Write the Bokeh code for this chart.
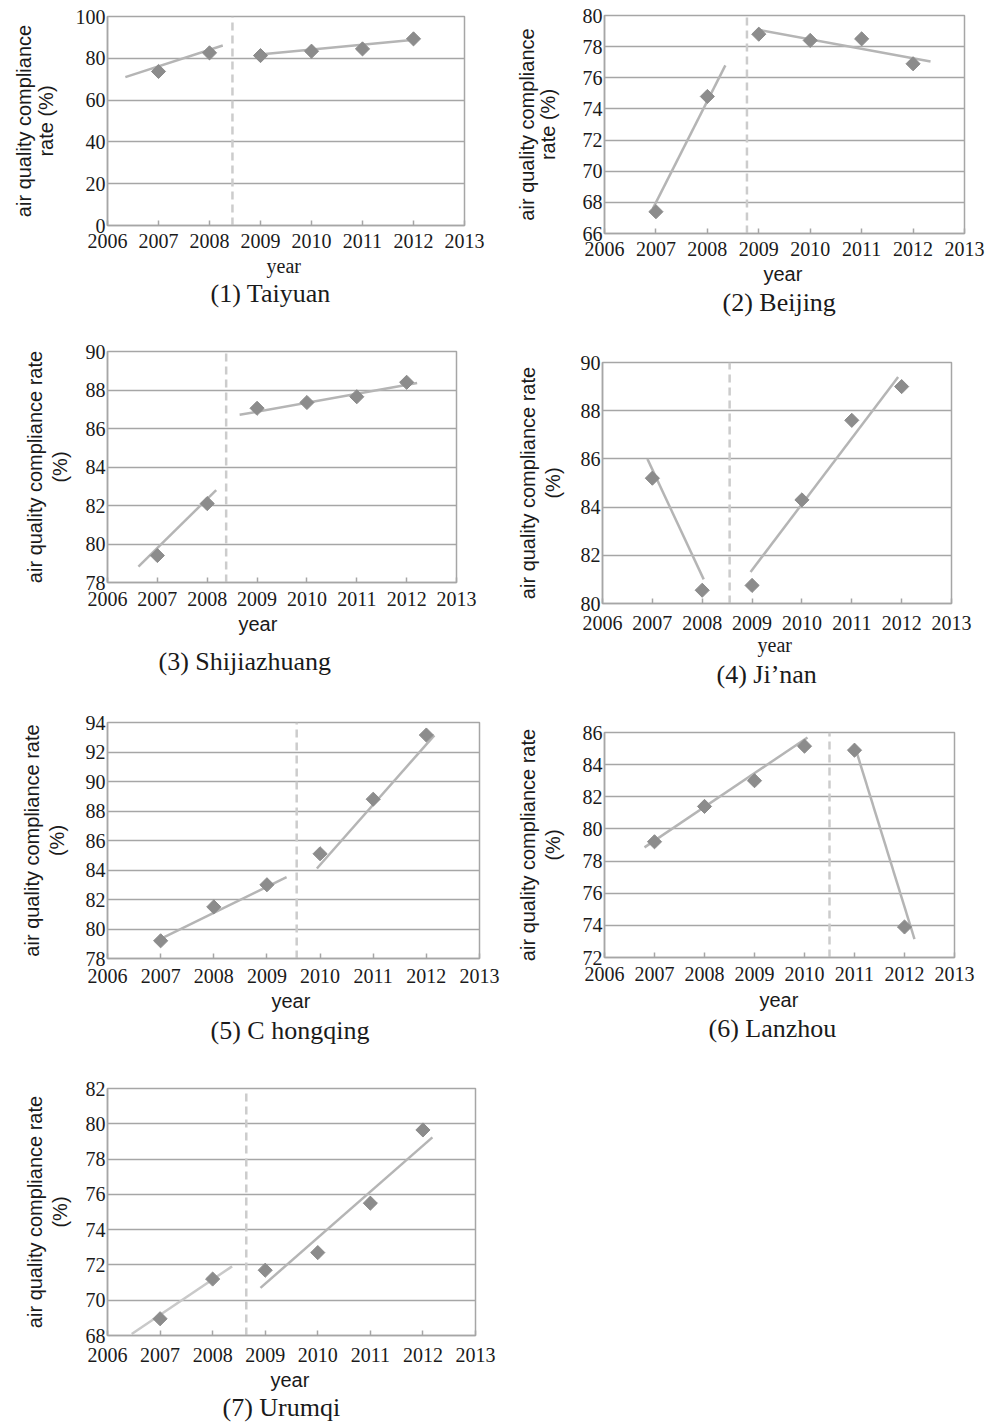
from bokeh.plotting import figure
from bokeh.layouts import column, row
from bokeh.models import FixedTicker, Title, Range1d
from bokeh.embed import file_html
from bokeh.resources import INLINE
import math

# ---------------- data ----------------
years = [2007, 2008, 2009, 2010, 2011, 2012]
x_ticks = [2006, 2007, 2008, 2009, 2010, 2011, 2012, 2013]

taiyuan = [73.7, 82.6, 81.3, 83.4, 84.5, 89.3]
beijing = [67.4, 74.8, 78.8, 78.4, 78.5, 76.9]
shijiazhuang = [79.4, 82.1, 87.05, 87.35, 87.65, 88.4]
jinan = [85.2, 80.55, 80.75, 84.3, 87.6, 89.0]
chongqing = [79.2, 81.5, 83.0, 85.1, 88.8, 93.15]
lanzhou = [79.2, 81.4, 83.0, 85.15, 84.9, 73.9]
urumqi = [68.95, 71.2, 71.7, 72.7, 75.5, 79.65]

# trend line end points: [segment1, segment2]
taiyuan_trend_x = [[2006.35, 2008.26], [2008.93, 2012.07]]
taiyuan_trend_y = [[71.0, 86.1], [81.7, 89.0]]
beijing_trend_x = [[2006.94, 2008.35], [2009.0, 2012.34]]
beijing_trend_y = [[67.6, 76.8], [79.08, 77.05]]
shijiazhuang_trend_x = [[2006.62, 2008.18], [2008.65, 2012.21]]
shijiazhuang_trend_y = [[78.83, 82.8], [86.71, 88.36]]
jinan_trend_x = [[2006.9, 2008.03], [2008.97, 2011.93]]
jinan_trend_y = [[86.0, 81.0], [81.31, 89.4]]
chongqing_trend_x = [[2006.99, 2009.37], [2009.94, 2012.15]]
chongqing_trend_y = [[79.32, 83.51], [84.1, 93.13]]
lanzhou_trend_x = [[2006.8, 2010.06], [2011.05, 2012.2]]
lanzhou_trend_y = [[78.85, 85.69], [84.7, 73.14]]
urumqi_trend_x = [[2006.46, 2008.37], [2008.91, 2012.18]]
urumqi_trend_y = [[68.09, 71.92], [70.7, 79.23]]

# break year (dashed vertical line)
break_years = [2008.45, 2008.77, 2008.38, 2008.55, 2009.56, 2010.5, 2008.64]

titles = ["(1) Taiyuan", "(2) Beijing", "(3) Shijiazhuang", "(4) Ji\u2019nan",
          "(5) C hongqing", "(6) Lanzhou", "(7) Urumqi"]
y_ranges = [(0, 100, 20), (66, 80, 2), (78, 90, 2), (80, 90, 2),
            (78, 94, 2), (72, 86, 2), (68, 82, 2)]
ylabel_a = "air quality compliance\nrate (%)"
ylabel_b = "air quality compliance rate\n(%)"
y_labels = [ylabel_a, ylabel_a, ylabel_b, ylabel_b, ylabel_b, ylabel_b, ylabel_b]

series = [taiyuan, beijing, shijiazhuang, jinan, chongqing, lanzhou, urumqi]
trend_xs = [taiyuan_trend_x, beijing_trend_x, shijiazhuang_trend_x, jinan_trend_x,
            chongqing_trend_x, lanzhou_trend_x, urumqi_trend_x]
trend_ys = [taiyuan_trend_y, beijing_trend_y, shijiazhuang_trend_y, jinan_trend_y,
            chongqing_trend_y, lanzhou_trend_y, urumqi_trend_y]

# ---------------- layout / style ----------------
# left, frame_w, right, top, frame_h, bottom, ylab_standoff, ylab_line_height,
# tick_standoff, year_font, year_left, year_standoff, title_left, title_standoff
layout_spec = [
    (107, 357, 36, 16, 209, 95, 16, 1.0, 8, "Liberation Serif", 159, 4, 103, -4),
    (104, 360, 35, 15, 218, 87, 21, 0.95, 8, "Liberation Sans", 159, 4, 118, -2),
    (107, 349, 44, 31, 231, 118, 12, 1.1, 9, "Liberation Sans", 131, 4, 51, 16),
    (102, 349, 48, 42, 241, 97, 14, 1.1, 12, "Liberation Serif", 155, -1, 114, 4),
    (107, 372, 21, 22, 236, 94, 15, 1.1, 10, "Liberation Sans", 164, 4, 103, 1),
    (104, 350, 45, 32, 225, 95, 16, 1.1, 9, "Liberation Sans", 155, 6, 104, -4),
    (107, 368, 25, 36, 247, 87, 12, 1.1, 12, "Liberation Sans", 163, 4, 115, -4),
]

GRID = "#a6a6a6"
MARK = "#8c8c8c"
TREND = "#b5b5b5"
TREND_LIGHT = "#c9c9c9"
DASH = "#cccccc"
TEXT = "#1a1a1a"


def make_panel(i):
    (left, fw, right, top, fh, bottom, ylso, ylh, tkso,
     yfont, yleft, yso, tleft, tso) = layout_spec[i]
    y0, y1, ystep = y_ranges[i]
    p = figure(frame_width=fw, frame_height=fh,
               x_range=Range1d(2006, 2013), y_range=Range1d(y0, y1),
               output_backend="svg", toolbar_location=None,
               min_border_left=left, min_border_right=right,
               min_border_top=top, min_border_bottom=bottom)
    p.frame_align = False
    p.outline_line_color = GRID
    p.outline_line_width = 1.5
    p.background_fill_color = "white"
    p.border_fill_color = "white"
    p.xgrid.grid_line_color = None
    p.ygrid.grid_line_color = GRID
    p.ygrid.grid_line_width = 1.5
    p.ygrid.ticker = FixedTicker(ticks=list(range(y0, y1 + 1, ystep)))

    p.xaxis.ticker = FixedTicker(ticks=x_ticks)
    p.yaxis.ticker = FixedTicker(ticks=list(range(y0, y1 + 1, ystep)))
    for ax in (p.xaxis, p.yaxis):
        ax.axis_line_color = GRID
        ax.axis_line_width = 1.5
        ax.minor_tick_line_color = None
        ax.major_label_text_font = "Liberation Serif"
        ax.major_label_text_font_size = "20px"
        ax.major_label_text_color = TEXT
    p.xaxis.major_tick_in = 5
    p.xaxis.major_tick_out = 0
    p.xaxis.major_tick_line_color = GRID
    p.xaxis.major_tick_line_width = 1.5
    p.xaxis.major_label_standoff = tkso
    p.yaxis.major_tick_in = 0
    p.yaxis.major_tick_out = 0
    p.yaxis.major_label_standoff = 2

    p.yaxis.axis_label = y_labels[i]
    p.yaxis.axis_label_text_font = "Liberation Sans"
    p.yaxis.axis_label_text_font_size = "20px"
    p.yaxis.axis_label_text_font_style = "normal"
    p.yaxis.axis_label_text_color = TEXT
    p.yaxis.axis_label_text_line_height = ylh
    p.yaxis.axis_label_standoff = ylso

    yt = Title(text="year", align="left", offset=yleft, standoff=yso,
               text_font=yfont, text_font_size="20px", text_font_style="normal",
               text_color=TEXT)
    p.add_layout(yt, "below")
    tt = Title(text=titles[i], align="left", offset=tleft, standoff=tso,
               text_font="Liberation Serif", text_font_size="26px",
               text_font_style="normal", text_color=TEXT)
    p.add_layout(tt, "below")

    # dashed break line
    p.segment(x0=[break_years[i]], y0=[y0], x1=[break_years[i]], y1=[y1],
              line_color=DASH, line_width=2.5, line_dash="8 5")
    # trend lines
    for k in range(2):
        col = TREND_LIGHT if (i == 6 and k == 0) else TREND
        p.line(trend_xs[i][k], trend_ys[i][k], line_color=col, line_width=2.5)
    # markers
    p.scatter(years, series[i], marker="square", size=10, angle=math.pi / 4,
              fill_color=MARK, line_color=MARK)
    return p


panels = [make_panel(i) for i in range(7)]
layout = column(row(panels[0], panels[1]), row(panels[2], panels[3]),
                row(panels[4], panels[5]), row(panels[6]))

open("out.html", "w").write(file_html(layout, INLINE))
